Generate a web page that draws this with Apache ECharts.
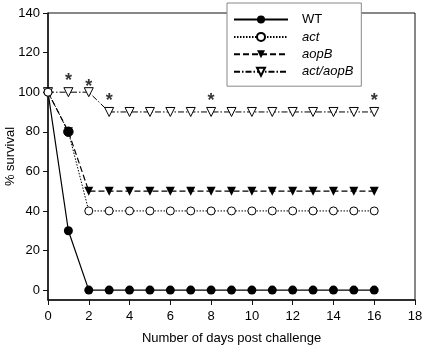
<!DOCTYPE html>
<html>
<head>
<meta charset="utf-8">
<script src="https://cdn.jsdelivr.net/npm/echarts@6/dist/echarts.min.js"></script>
<style>html,body{margin:0;padding:0;background:#fff}#c{width:422px;height:348px}</style>
</head>
<body>
<div id="c"></div>
<script>
var days = [0,1,2,3,4,5,6,7,8,9,10,11,12,13,14,15,16];
var wt     = [100,30,0,0,0,0,0,0,0,0,0,0,0,0,0,0,0];
var act    = [100,80,40,40,40,40,40,40,40,40,40,40,40,40,40,40,40];
var aopB   = [100,80,50,50,50,50,50,50,50,50,50,50,50,50,50,50,50];
var actAopB= [100,100,100,90,90,90,90,90,90,90,90,90,90,90,90,90,90];
var starX = [1,2,3,8,16];
var starY = [108,105,98,98,98];
var yTicks = [0,20,40,60,80,100,120,140];
var seriesNames = ['WT','act','aopB','act/aopB'];

function pairs(ys){ return days.map(function(d,i){ return [d, ys[i]]; }); }
var FONT = 'Liberation Sans, Arial, sans-serif';
var chart = echarts.init(document.getElementById('c'));
var actData = pairs(act).map(function(p,i){
  return i===1 ? {value:p, itemStyle:{color:'#000'}, symbolSize:9.5} : p;
});
chart.setOption({
  animation:false,
  backgroundColor:'#fff',
  textStyle:{fontFamily:FONT},
  grid:{left:48,right:7,top:13,bottom:48,outerBoundsMode:'none',containLabel:false,
    show:true,borderColor:'#111',borderWidth:1,backgroundColor:'transparent'},
  legend:{
    orient:'vertical', left:227, top:3, z:10,
    backgroundColor:'#fff', borderColor:'#888', borderWidth:1,
    padding:[10,8,8,6], itemWidth:54, itemHeight:10, itemGap:4.4,
    data:seriesNames,
    textStyle:{fontSize:13, color:'#000', fontFamily:FONT, padding:[0,0,0,9],
      rich:{i:{fontStyle:'italic',fontSize:13,fontFamily:FONT}}},
    formatter:function(n){ return n==='WT' ? n : '{i|'+n+'}'; }
  },
  xAxis:{
    type:'value', min:0, max:18, interval:2,
    name:'Number of days post challenge', nameLocation:'middle', nameGap:32,
    nameMoveOverlap:false,
    nameTextStyle:{fontSize:13,color:'#000',fontFamily:FONT},
    axisLine:{show:true,onZero:false,lineStyle:{color:'#111',width:1.5}},
    axisTick:{show:true,inside:false,length:5,lineStyle:{color:'#111'}},
    axisLabel:{fontSize:13,color:'#000',margin:10,fontFamily:FONT},
    splitLine:{show:false}
  },
  yAxis:{
    type:'value', min:-5, max:140,
    name:'% survival', nameLocation:'middle', nameGap:31,
    nameMoveOverlap:false,
    nameTextStyle:{fontSize:13,color:'#000',fontFamily:FONT},
    axisLine:{show:true,onZero:false,lineStyle:{color:'#111',width:1.5}},
    axisTick:{show:true,inside:false,length:5,customValues:yTicks,lineStyle:{color:'#111'}},
    axisLabel:{fontSize:13,color:'#000',margin:8,customValues:yTicks,fontFamily:FONT},
    splitLine:{show:false}
  },
  series:[
    {name:'WT',type:'line',data:pairs(wt),symbol:'circle',symbolSize:9,
      lineStyle:{color:'#000',width:1.2,type:'solid'},itemStyle:{color:'#000'}},
    {name:'aopB',type:'line',data:pairs(aopB),symbol:'triangle',symbolRotate:180,symbolSize:9,
      lineStyle:{color:'#000',width:1.2,type:[6,3]},itemStyle:{color:'#000'}},
    {name:'act/aopB',type:'line',data:pairs(actAopB),symbol:'triangle',symbolRotate:180,symbolSize:9,
      lineStyle:{color:'#000',width:1,type:[6,2,1.5,2]},itemStyle:{color:'#fff',borderColor:'#000',borderWidth:1}},
    {name:'act',type:'line',data:actData,symbol:'circle',symbolSize:8,
      lineStyle:{color:'#000',width:1,type:[1.5,1.5]},itemStyle:{color:'#fff',borderColor:'#000',borderWidth:1}},
    {name:'stars',type:'scatter',symbolSize:0,silent:true,
      data:starX.map(function(x,i){return [x,starY[i]];}),
      label:{show:true,formatter:'*',position:'inside',fontSize:18,fontWeight:'bold',color:'#000',offset:[0,5],fontFamily:FONT}}
  ]
});
</script>
</body>
</html>
